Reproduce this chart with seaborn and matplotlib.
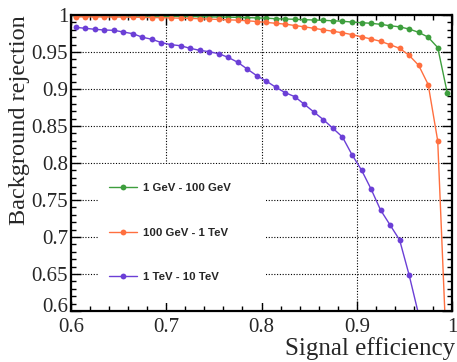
import numpy as np
import pandas as pd
import matplotlib
matplotlib.use("Agg")
import matplotlib.pyplot as plt
import matplotlib.transforms as mtransforms
from matplotlib.ticker import MultipleLocator, FuncFormatter
from matplotlib.patches import Rectangle
from matplotlib.lines import Line2D
import seaborn as sns

# ---------------- data ----------------
signal_eff = [0.605, 0.615, 0.625, 0.635, 0.645, 0.655, 0.665, 0.675, 0.685, 0.695,
              0.705, 0.715, 0.725, 0.735, 0.745, 0.755, 0.765, 0.775, 0.785, 0.795,
              0.805, 0.815, 0.825, 0.835, 0.845, 0.855, 0.865, 0.875, 0.885, 0.895,
              0.905, 0.915, 0.925, 0.935, 0.945, 0.955, 0.965, 0.975, 0.985, 0.995]

rej_1gev_100gev = [0.9990, 0.9990, 0.9989, 0.9988, 0.9988, 0.9987, 0.9986, 0.9985, 0.9984, 0.9983,
                   0.9981, 0.9980, 0.9978, 0.9977, 0.9975, 0.9973, 0.9971, 0.9968, 0.9965, 0.9961,
                   0.9957, 0.9950, 0.9946, 0.9942, 0.9937, 0.9932, 0.9928, 0.9922, 0.9915, 0.9905,
                   0.9896, 0.9888, 0.9874, 0.9855, 0.9840, 0.9810, 0.9766, 0.9700, 0.9560, 0.8950]

rej_100gev_1tev = [0.9975, 0.9975, 0.9974, 0.9973, 0.9972, 0.9971, 0.9970, 0.9968, 0.9966, 0.9964,
                   0.9960, 0.9957, 0.9954, 0.9950, 0.9945, 0.9940, 0.9935, 0.9930, 0.9922, 0.9912,
                   0.9900, 0.9888, 0.9876, 0.9858, 0.9840, 0.9820, 0.9800, 0.9780, 0.9760, 0.9735,
                   0.9705, 0.9676, 0.9645, 0.9598, 0.9550, 0.9455, 0.9320, 0.9060, 0.8300, 0.5200]

rej_1tev_10tev = [0.9834, 0.9820, 0.9807, 0.9797, 0.9793, 0.9770, 0.9747, 0.9699, 0.9672, 0.9626,
                  0.9599, 0.9585, 0.9550, 0.9523, 0.9504, 0.9477, 0.9428, 0.9361, 0.9270, 0.9180,
                  0.9108, 0.9023, 0.8950, 0.8896, 0.8793, 0.8689, 0.8585, 0.8469, 0.8351, 0.8112,
                  0.7905, 0.7649, 0.7365, 0.7162, 0.6960, 0.6486, 0.5950, 0.5000, 0.4000, 0.2500]

series_labels = ["1 GeV - 100 GeV", "100 GeV - 1 TeV", "1 TeV - 10 TeV"]
series_colors = ["#3d9e3d", "#ff6f3f", "#6b3fd6"]

df = pd.concat([
    pd.DataFrame({"eff": signal_eff, "rej": rej_1gev_100gev, "range": series_labels[0]}),
    pd.DataFrame({"eff": signal_eff, "rej": rej_100gev_1tev, "range": series_labels[1]}),
    pd.DataFrame({"eff": signal_eff, "rej": rej_1tev_10tev, "range": series_labels[2]}),
], ignore_index=True)

# ---------------- style ----------------
sns.set_theme(style="white")
plt.rcParams["font.family"] = ["Liberation Serif", "DejaVu Serif"]
plt.rcParams["axes.edgecolor"] = "black"
plt.rcParams["axes.linewidth"] = 1.6

fig = plt.figure(figsize=(4.57, 3.62), dpi=100)
ax = fig.add_axes([71 / 457, 1 - 311 / 362, (452 - 71) / 457, (311 - 15) / 362])

sns.lineplot(data=df, x="eff", y="rej", hue="range", hue_order=series_labels,
             palette=series_colors, marker="o", markersize=4.2, markeredgewidth=0,
             linewidth=1.0, ax=ax, legend=False, zorder=3)

ax.set_xlim(0.6, 1.0)
ax.set_ylim(0.6, 1.0)

ax.xaxis.set_major_locator(MultipleLocator(0.1))
ax.xaxis.set_minor_locator(MultipleLocator(0.02))
ax.yaxis.set_major_locator(MultipleLocator(0.05))
ax.yaxis.set_minor_locator(MultipleLocator(0.01))
xfmt = FuncFormatter(lambda v, p: "%g" % round(v, 3))
# the lowest y label is drawn separately (slightly raised, as in the reference)
yfmt = FuncFormatter(lambda v, p: "" if abs(v - 0.6) < 1e-9 else "%g" % round(v, 3))
ax.xaxis.set_major_formatter(xfmt)
ax.yaxis.set_major_formatter(yfmt)

ax.tick_params(which="both", direction="in", top=True, right=True,
               bottom=True, left=True, color="black", width=1.0)
ax.tick_params(which="major", length=7, labelsize=15)
ax.tick_params(which="minor", length=3.8)
ax.tick_params(axis="x", which="major", pad=5)
ax.tick_params(axis="y", which="major", pad=2)

ax.text(0, 0.6, "0.6", fontsize=15, ha="right", va="bottom",
        transform=ax.get_yaxis_transform() +
        mtransforms.ScaledTranslation(-2.9 / 100, -5.5 / 100, fig.dpi_scale_trans))

ax.grid(True, which="major", color="black", linestyle=(0, (1, 1.5)), linewidth=0.8)
ax.set_axisbelow(True)

ax.set_xlabel("Signal efficiency", fontsize=18, loc="right", labelpad=0)
ax.set_ylabel("Background rejection", fontsize=17.5, loc="top", labelpad=1)
ax.xaxis.set_label_coords(1.008, -0.088, transform=ax.transAxes)

# legend box (white fill, no border) covering the grid
ax.add_patch(Rectangle((0.6283, 0.611), 0.8045 - 0.6283, 0.7985 - 0.611,
                       facecolor="white", edgecolor="none", zorder=1.5))

handles = [Line2D([0], [0], color=c, marker="o", markersize=4.2, markeredgewidth=0,
                  linewidth=1.0) for c in series_colors]
leg = ax.legend(handles, series_labels, loc="upper left",
                bbox_to_anchor=((106 - 71) / 381 - 0.014, 1 - (175 - 15) / 296),
                frameon=False, prop={"family": "Liberation Sans", "weight": "bold", "size": 8.2},
                labelspacing=3.05, handlelength=2.45, handletextpad=0.6, borderpad=0.2)
leg.set_zorder(4)

for spine in ax.spines.values():
    spine.set_zorder(5)

fig.savefig("out.png", dpi=100)
